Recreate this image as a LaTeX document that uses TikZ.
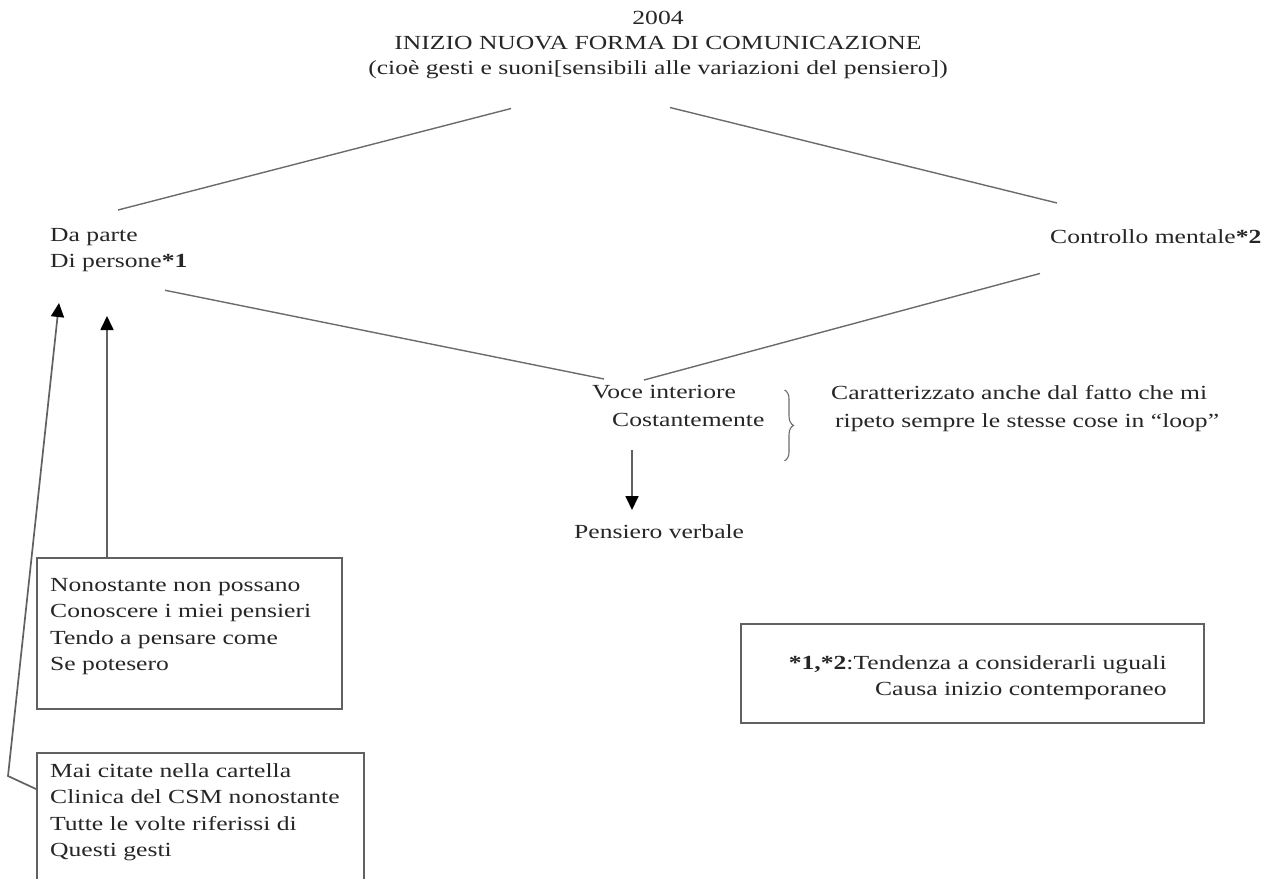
\documentclass[tikz,border=0pt]{standalone}
\usepackage{fontspec}
\setmainfont{Liberation Serif}[FakeStretch=1.28]
\usepackage{tikz}
\usetikzlibrary{shapes,arrows.meta,positioning,calc,decorations.pathreplacing}

\begin{document}
\begin{tikzpicture}[x=1pt, y=-1pt, every node/.style={font=\fontsize{20}{26.5}\selectfont, text=black!85, inner sep=0pt}]
    \tikzstyle{testo} = [align=left]
    \tikzstyle{cornice} = [rectangle, draw=black!62, line width=1.8pt]
    \tikzstyle{linea} = [draw=black!58, line width=1.4pt]
    \tikzstyle{freccia} = [draw=black!62, line width=1.7pt, -{Triangle[length=14pt, width=13pt, color=black]}]
    \tikzstyle{graffa} = [draw=black!58, line width=1.1pt, decorate, decoration={brace, amplitude=9pt}]

    \useasboundingbox (0,0) rectangle (1276,878);
    \clip (0,0) rectangle (1276,878);

    \node[align=center, anchor=north, font=\fontsize{20}{25}\selectfont] (titolo) at (658,11)
        {2004\\INIZIO NUOVA FORMA DI COMUNICAZIONE\\(cioè gesti e suoni[sensibili alle variazioni del pensiero])};

    \node[testo, anchor=north west] (persone) at (50,228) {Da parte\\Di persone\textbf{*1}};
    \node[testo, anchor=north west] (mentale) at (1050,229) {Controllo mentale\textbf{*2}};

    \node[testo, anchor=north west] (voce) at (592,385) {Voce interiore\\[1.5pt]\hspace{20pt}Costantemente};
    \node[testo, anchor=north west] (nota) at (831,385) {Caratterizzato anche dal fatto che mi\\[1.5pt]\hspace{4pt}ripeto sempre le stesse cose in “loop”};
    \node[testo, anchor=north west] (pensiero) at (574,524) {Pensiero verbale};

    % riquadri in basso
    \node[cornice, anchor=north west, minimum width=305pt, minimum height=151pt] (box1) at (36,557) {};
    \node[testo, below right=21pt and 14pt of box1.north west] (testo1)
        {Nonostante non possano\\Conoscere i miei pensieri\\Tendo a pensare come\\Se potesero};
    \node[cornice, anchor=north west, minimum width=327pt, minimum height=140pt] (box2) at (36,752) {};
    \node[testo, below right=11pt and 14pt of box2.north west] (testo2)
        {Mai citate nella cartella\\Clinica del CSM nonostante\\Tutte le volte riferissi di\\Questi gesti};
    \node[cornice, anchor=north west, minimum width=463pt, minimum height=99pt] (legenda) at (740,623) {};
    \node[align=right, below left=32pt and 38pt of legenda.north east] (testo3)
        {\textbf{*1,*2}:Tendenza a considerarli uguali\\Causa inizio contemporaneo};

    \coordinate (punta1) at (107,316);
    \coordinate (punta2) at (59,303);
    \coordinate (gomito) at (8,776);

    \draw[linea] ([xshift=-147pt, yshift=-29.5pt]titolo.south) -- ([xshift=68pt, yshift=18pt]persone.north west);
    \draw[linea] ([xshift=12pt, yshift=-28.5pt]titolo.south) -- ([xshift=7pt, yshift=26pt]mentale.north west);
    \draw[linea] ([xshift=115pt, yshift=-18pt]persone.south west) -- ([xshift=12pt, yshift=6pt]voce.north west);
    \draw[linea] ([xshift=-10pt, yshift=-30pt]mentale.south west) -- ([xshift=52pt, yshift=5pt]voce.north west);

    \draw[graffa] ([xshift=20pt, yshift=-5pt]voce.north east) -- ([xshift=20pt, yshift=-34pt]voce.south east);
    \draw[freccia] ([xshift=40pt, yshift=-23pt]voce.south west) -- ([xshift=58pt, yshift=14pt]pensiero.north west);

    \draw[freccia] (punta1 |- box1.north) -- (punta1);
    \draw[freccia] ([yshift=-37pt]box2.north west) -- (gomito) -- (punta2);
\end{tikzpicture}
\end{document}
